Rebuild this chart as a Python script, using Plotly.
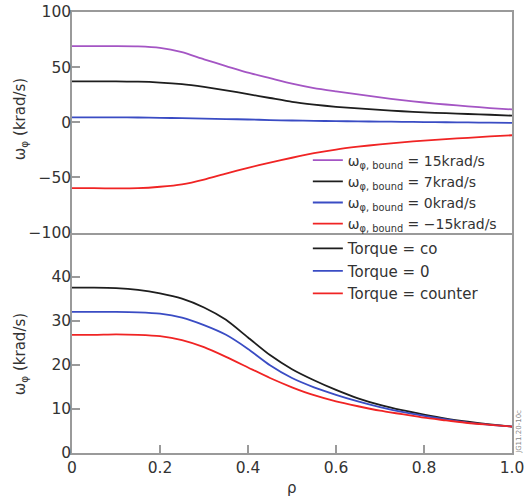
import plotly.graph_objects as go
from plotly.subplots import make_subplots

rho = [0, 0.05, 0.1, 0.15, 0.2, 0.25, 0.3, 0.35, 0.4, 0.45, 0.5,
       0.55, 0.6, 0.65, 0.7, 0.75, 0.8, 0.85, 0.9, 0.95, 1.0]

# Top panel: boundary-condition scan
bound_labels = ["15krad/s", "7krad/s", "0krad/s", "\u221215krad/s"]
top_purple = [69, 69, 69, 68.8, 67.5, 63.5, 57, 51, 45, 40, 35,
              31, 28, 25.2, 22.6, 20, 17.9, 16.1, 14.4, 12.9, 11.6]
top_black = [37, 37, 37, 36.8, 36, 34.5, 32, 29, 25.5, 22, 18.5,
             16, 14, 12.5, 11.2, 10, 9, 8.2, 7.5, 6.8, 6]
top_blue = [4.5, 4.5, 4.4, 4.3, 4, 3.7, 3.3, 2.9, 2.5, 2, 1.6,
            1.3, 1.0, 0.8, 0.6, 0.4, 0.2, 0, -0.2, -0.4, -0.5]
top_red = [-59.7, -59.8, -60, -59.8, -58.5, -56.3, -52, -46.5, -41.3, -36.6, -32.2,
           -28.1, -24.8, -22.2, -20, -18.2, -16.7, -15.3, -14.1, -12.9, -11.8]

# Bottom panel: torque scan
torque_labels = ["co", "0", "counter"]
bot_black = [37.5, 37.5, 37.4, 37, 36.2, 35, 33, 30.2, 26.2, 22.2, 19,
             16.5, 14.3, 12.4, 10.9, 9.7, 8.7, 7.8, 7.1, 6.5, 6]
bot_blue = [32, 32, 32, 31.9, 31.6, 30.7, 29, 26.8, 23.6, 19.9, 17,
            14.9, 13.2, 11.7, 10.4, 9.3, 8.4, 7.6, 6.9, 6.4, 6]
bot_red = [26.8, 26.8, 26.9, 26.8, 26.5, 25.6, 24, 21.8, 19.4, 17, 14.9,
           13.1, 11.7, 10.6, 9.6, 8.8, 8.0, 7.4, 6.8, 6.4, 6]

x_ticks = [0, 0.2, 0.4, 0.6, 0.8, 1.0]
x_ticktext = ["0", "0.2", "0.4", "0.6", "0.8", "1.0"]
top_yticks = [-100, -50, 0, 50, 100]
bot_yticks = [0, 10, 20, 30, 40]

PURPLE = "#a455c4"
BLACK = "#1e1e1e"
BLUE = "#3a4cc4"
RED = "#f02424"
AXC = "#9a9a9a"
TXT = "#333333"
FONT = "DejaVu Sans"

fig = make_subplots(rows=2, cols=1, shared_xaxes=True, vertical_spacing=0)

for vals, col, lab in zip([top_purple, top_black, top_blue, top_red],
                          [PURPLE, BLACK, BLUE, RED], bound_labels):
    fig.add_trace(go.Scatter(
        x=rho, y=vals, mode="lines", line=dict(color=col, width=1.8, shape="spline", smoothing=0.6),
        name="\u03c9<sub>\u03c6, bound</sub> = " + lab, legend="legend"), row=1, col=1)

for vals, col, lab in zip([bot_black, bot_blue, bot_red],
                          [BLACK, BLUE, RED], torque_labels):
    fig.add_trace(go.Scatter(
        x=rho, y=vals, mode="lines", line=dict(color=col, width=1.8, shape="spline", smoothing=0.6),
        name="Torque = " + lab, legend="legend2"), row=2, col=1)

axis_common = dict(showline=True, linecolor=AXC, linewidth=1.5,
                   ticks="inside", ticklen=8, tickwidth=1.5, tickcolor=AXC,
                   showgrid=False, zeroline=False, automargin=False,
                   ticklabeloverflow="allow",
                   tickfont=dict(family=FONT, size=15.5, color=TXT))

fig.update_xaxes(range=[0, 1], tickvals=x_ticks, ticktext=x_ticktext, **axis_common)
fig.update_xaxes(ticks="", mirror=True, row=1, col=1)
fig.update_xaxes(mirror=False, row=2, col=1)
fig.update_yaxes(mirror=True, ticklabelstandoff=-4, **axis_common)
fig.update_yaxes(range=[-100, 100], tickvals=top_yticks, domain=[0.5, 1], row=1, col=1)
fig.update_yaxes(range=[0, 50], tickvals=bot_yticks, domain=[0, 0.5], row=2, col=1)

fig.update_layout(
    width=524, height=501,
    margin=dict(l=72, r=12, t=12, b=48, autoexpand=False),
    paper_bgcolor="white", plot_bgcolor="white",
    legend=dict(x=0.536, y=0.6995, xanchor="left", yanchor="top",
                font=dict(family=FONT, size=14, color=TXT),
                bgcolor="rgba(255,255,255,0)", tracegroupgap=0, itemwidth=30),
    legend2=dict(x=0.536, y=0.501, xanchor="left", yanchor="top",
                 font=dict(family=FONT, size=15, color=TXT),
                 bgcolor="rgba(255,255,255,0)", tracegroupgap=0, itemwidth=30),
    annotations=[
        dict(text="\u03c9<sub>\u03c6</sub> (krad/s)", xref="paper", yref="paper",
             x=-0.118, y=0.757, xanchor="center", yanchor="middle", textangle=-90,
             showarrow=False, font=dict(family=FONT, size=15, color=TXT)),
        dict(text="\u03c9<sub>\u03c6</sub> (krad/s)", xref="paper", yref="paper",
             x=-0.118, y=0.224, xanchor="center", yanchor="middle", textangle=-90,
             showarrow=False, font=dict(family=FONT, size=15, color=TXT)),
        dict(text="\u03c1", xref="paper", yref="paper", x=0.5, y=-0.079,
             xanchor="center", yanchor="middle", showarrow=False,
             font=dict(family=FONT, size=15, color=TXT)),
        dict(text="JG11.20-10c", xref="paper", yref="paper", x=1.016, y=0.048,
             xanchor="center", yanchor="middle", textangle=-90, showarrow=False,
             font=dict(family=FONT, size=7, color="#888888")),
    ],
)

fig.write_html("out.html", config={"displayModeBar": False},
               post_script="document.body.style.margin='0px';")
